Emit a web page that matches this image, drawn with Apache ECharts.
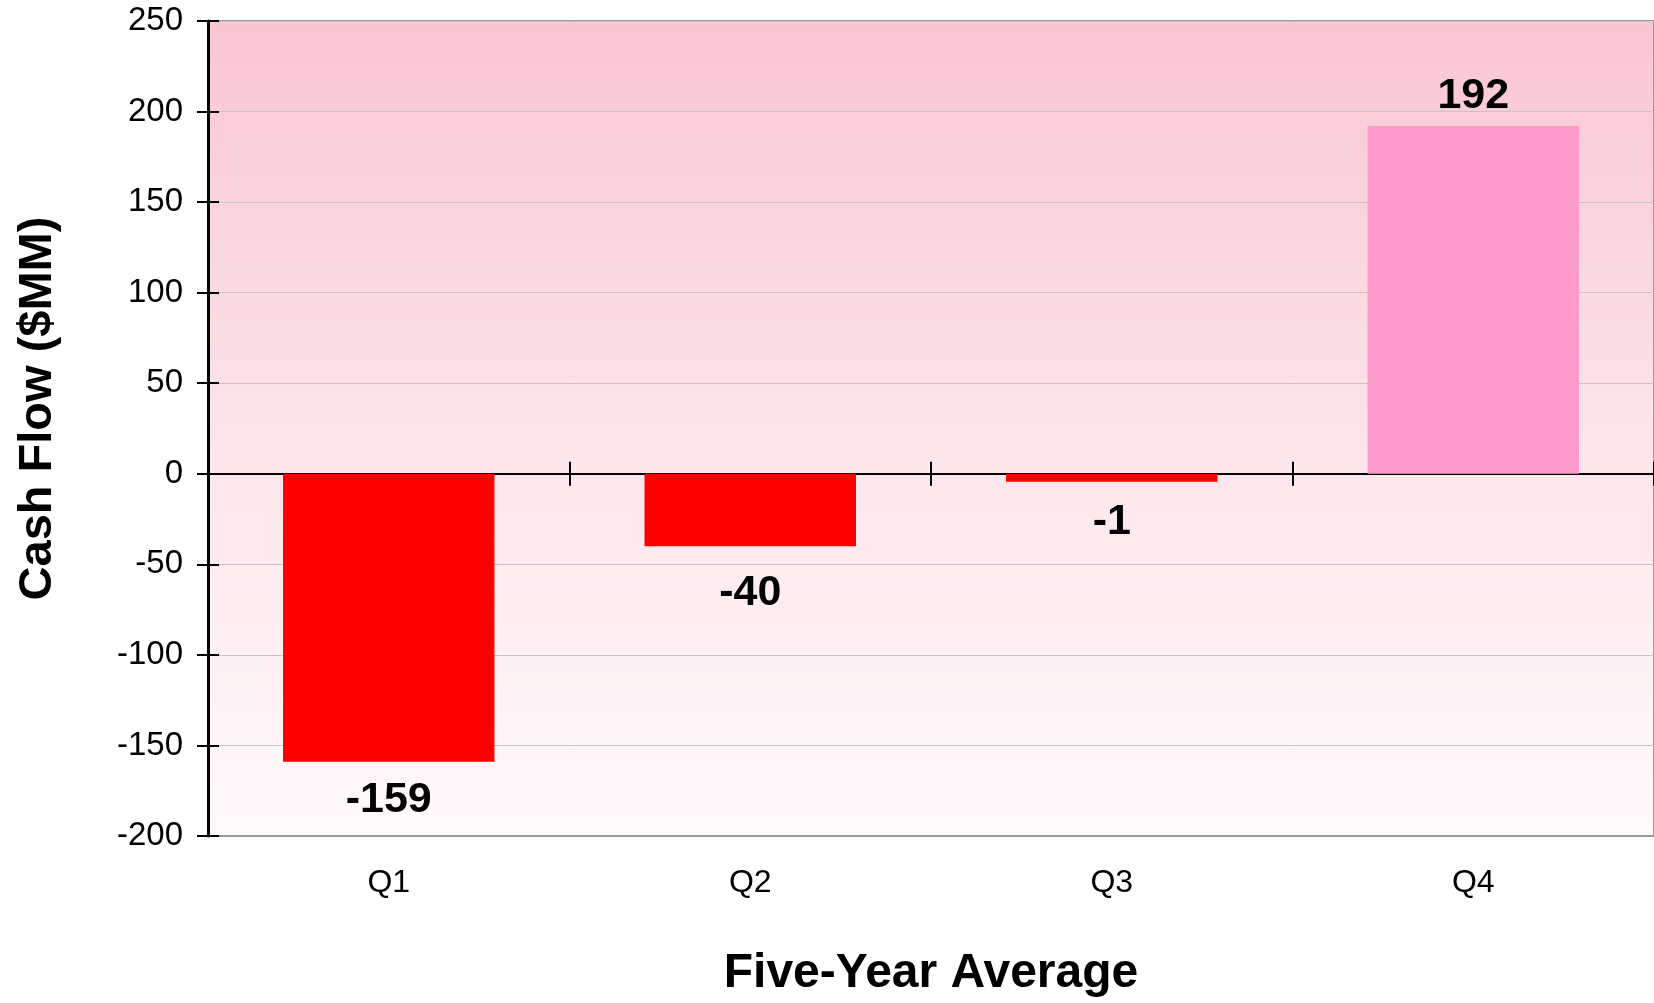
<!DOCTYPE html>
<html>
<head>
<meta charset="utf-8">
<script src="https://cdn.jsdelivr.net/npm/echarts@6/dist/echarts.min.js"></script>
<style>
  html, body { margin: 0; padding: 0; background: #fff; }
  #chart { width: 1654px; height: 1003px; }
</style>
</head>
<body>
<div id="chart"></div>
<script>
// quarterly cash flow, five-year average
const quarters = ['Q1', 'Q2', 'Q3', 'Q4']
const cashFlow = [-159, -40, -1, 192]
const barColors = ['#ff0000', '#ff0000', '#ff0000', '#ff9bcb']
const labelGap = [17, 25, 19, 8]

const font = "'Liberation Sans', Arial, sans-serif"

const chart = echarts.init(document.getElementById('chart'))

const yBase = {
  type: 'value',
  min: -200,
  max: 250,
  interval: 50
}

chart.setOption({
  animation: false,
  grid: {
    left: 208,
    top: 21,
    right: 0,
    bottom: 164,
    show: true,
    borderWidth: 2,
    borderColor: '#999',
    backgroundColor: {
      type: 'linear', x: 0, y: 0, x2: 0, y2: 1,
      colorStops: [
        { offset: 0, color: '#f9c6d3' },
        { offset: 0.5, color: '#fce4ea' },
        { offset: 1, color: '#fffafb' }
      ]
    }
  },
  xAxis: [
    {
      type: 'category',
      data: quarters,
      position: 'bottom',
      axisLine: { onZero: false, lineStyle: { color: '#999', width: 2 } },
      axisTick: { show: false },
      axisLabel: { fontFamily: font, fontSize: 32, color: '#000', margin: 31 },
      name: 'Five-Year Average',
      nameLocation: 'middle',
      nameGap: 114,
      nameTextStyle: { fontFamily: font, fontSize: 48, fontWeight: 'bold', color: '#000' }
    },
    {
      // zero line, ticks down
      type: 'category',
      data: quarters,
      position: 'bottom',
      axisLine: { onZero: true, lineStyle: { color: '#000', width: 2 } },
      axisTick: { show: true, length: 12, lineStyle: { color: '#000', width: 2 } },
      axisLabel: { show: false }
    },
    {
      // zero line, ticks up
      type: 'category',
      data: quarters,
      position: 'top',
      axisLine: { onZero: true, lineStyle: { color: '#000', width: 2 } },
      axisTick: { show: true, length: 12, lineStyle: { color: '#000', width: 2 } },
      axisLabel: { show: false }
    }
  ],
  yAxis: [
    Object.assign({}, yBase, {
      axisLine: { show: true, lineStyle: { color: '#000', width: 3 } },
      axisTick: { show: true, length: 11, lineStyle: { color: '#000', width: 2 } },
      axisLabel: { fontFamily: font, fontSize: 33, color: '#000', margin: 25 },
      splitLine: { show: true, lineStyle: { color: '#c4c4c4', width: 1 } },
      name: 'Cash Flow ($MM)',
      nameLocation: 'middle',
      nameGap: 146,
      nameTextStyle: {
        fontFamily: font, fontSize: 47, fontWeight: 'bold', color: '#000',
        padding: [0, 0, 0, 40]
      }
    }),
    Object.assign({}, yBase, {
      position: 'left',
      axisLine: { show: false },
      axisTick: { show: true, inside: true, length: 11, lineStyle: { color: '#000', width: 2 } },
      axisLabel: { show: false },
      splitLine: { show: false }
    })
  ],
  series: [
    {
      type: 'bar',
      xAxisIndex: 0,
      yAxisIndex: 0,
      barWidth: '58.5%',
      barMinHeight: 8,
      data: cashFlow.map((v, i) => ({
        value: v,
        itemStyle: { color: barColors[i] },
        label: { position: v < 0 ? 'bottom' : 'top', distance: labelGap[i] }
      })),
      label: {
        show: true,
        fontFamily: font,
        fontSize: 43,
        fontWeight: 'bold',
        color: '#000'
      }
    }
  ]
})
</script>
</body>
</html>
